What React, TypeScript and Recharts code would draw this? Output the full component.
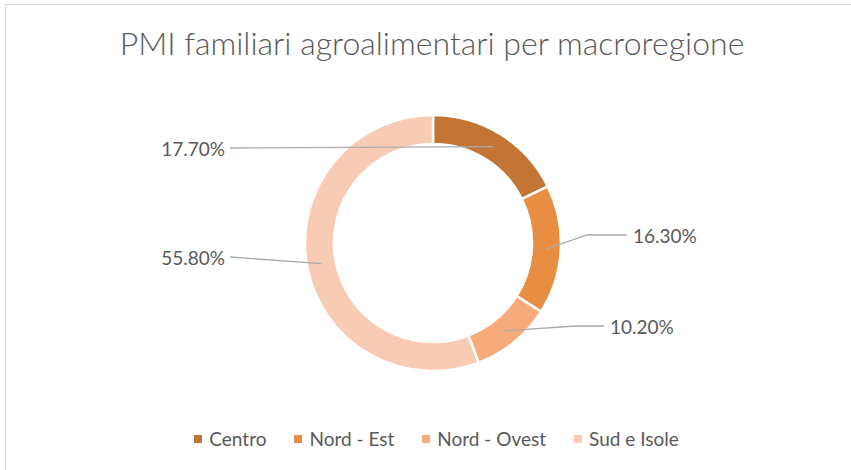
import { PieChart, Pie, Cell } from "recharts";

const regions = ["Centro", "Nord - Est", "Nord - Ovest", "Sud e Isole"];
const shares = [17.7, 16.3, 10.2, 55.8];
const sliceColors = ["#C27534", "#E88E42", "#F6AC7A", "#F8CBB4"];

// leader layout per slice: elbow / end offsets from pie centre
const leaders = [
  { elbow: [-203, -95], end: [-203, -95], side: "left" },
  { elbow: [154, -8], end: [194, -8], side: "right" },
  { elbow: [142, 83], end: [171, 83], side: "right" },
  { elbow: [-203, 14], end: [-203, 14], side: "left" },
];

const data = regions.map((name, i) => ({ name, value: shares[i] }));

const FONT = "Lato, 'Open Sans', sans-serif";
const TEXT = "#595959";
const RAD = Math.PI / 180;

const LeaderLabel = (props: any) => {
  const { cx, cy, midAngle, innerRadius, outerRadius, index, value } = props;
  const r = (innerRadius + outerRadius) / 2;
  const sx = cx + r * Math.cos(-midAngle * RAD);
  const sy = cy + r * Math.sin(-midAngle * RAD);
  const l = leaders[index];
  const ex = cx + l.end[0];
  const ey = cy + l.end[1];
  const bx = cx + l.elbow[0];
  const by = cy + l.elbow[1];
  const left = l.side === "left";
  return (
    <g>
      <polyline
        points={`${sx},${sy} ${bx},${by} ${ex},${ey}`}
        fill="none"
        stroke="#ABABAB"
        strokeWidth={1.3}
      />
      <text
        x={left ? ex - 5 : ex + 6}
        y={ey}
        textAnchor={left ? "end" : "start"}
        dominantBaseline="central"
        fontSize={19}
        fontFamily={FONT}
        fill={TEXT}
      >
        {value.toFixed(2)}%
      </text>
    </g>
  );
};

export default function App() {
  return (
    <div
      style={{
        position: "fixed",
        left: 0,
        top: 0,
        width: 851,
        height: 470,
        overflow: "hidden",
        background: "#fff",
      }}
    >
      <div
        style={{
          position: "absolute",
          left: 5,
          top: 4,
          width: 900,
          height: 500,
          border: "1.5px solid #D9D9D9",
        }}
      />
      <div
        style={{
          position: "absolute",
          left: 0,
          top: 23,
          width: 864,
          textAlign: "center",
          fontFamily: FONT,
          fontWeight: 300,
          fontSize: 32,
          color: TEXT,
        }}
      >
        PMI familiari agroalimentari per macroregione
      </div>
      <div style={{ position: "absolute", left: 0, top: 0 }}>
        <PieChart width={851} height={470} margin={{ top: 0, right: 0, bottom: 0, left: 0 }}>
          <Pie
            data={data}
            dataKey="value"
            nameKey="name"
            cx={433}
            cy={243}
            innerRadius={99}
            outerRadius={128}
            startAngle={90}
            endAngle={-270}
            stroke="#fff"
            strokeWidth={2.5}
            label={LeaderLabel}
            labelLine={false}
            isAnimationActive={false}
          >
            {data.map((d, i) => (
              <Cell key={d.name} fill={sliceColors[i]} />
            ))}
          </Pie>
        </PieChart>
      </div>
      <div
        style={{
          position: "absolute",
          left: 0,
          top: 427,
          width: 873,
          display: "flex",
          justifyContent: "center",
          gap: 28,
          fontFamily: FONT,
          fontSize: 19,
          color: TEXT,
        }}
      >
        {regions.map((name, i) => (
          <div key={name} style={{ display: "flex", alignItems: "center", gap: 7 }}>
            <span style={{ width: 8, height: 8, background: sliceColors[i], display: "inline-block" }} />
            <span>{name}</span>
          </div>
        ))}
      </div>
    </div>
  );
}
